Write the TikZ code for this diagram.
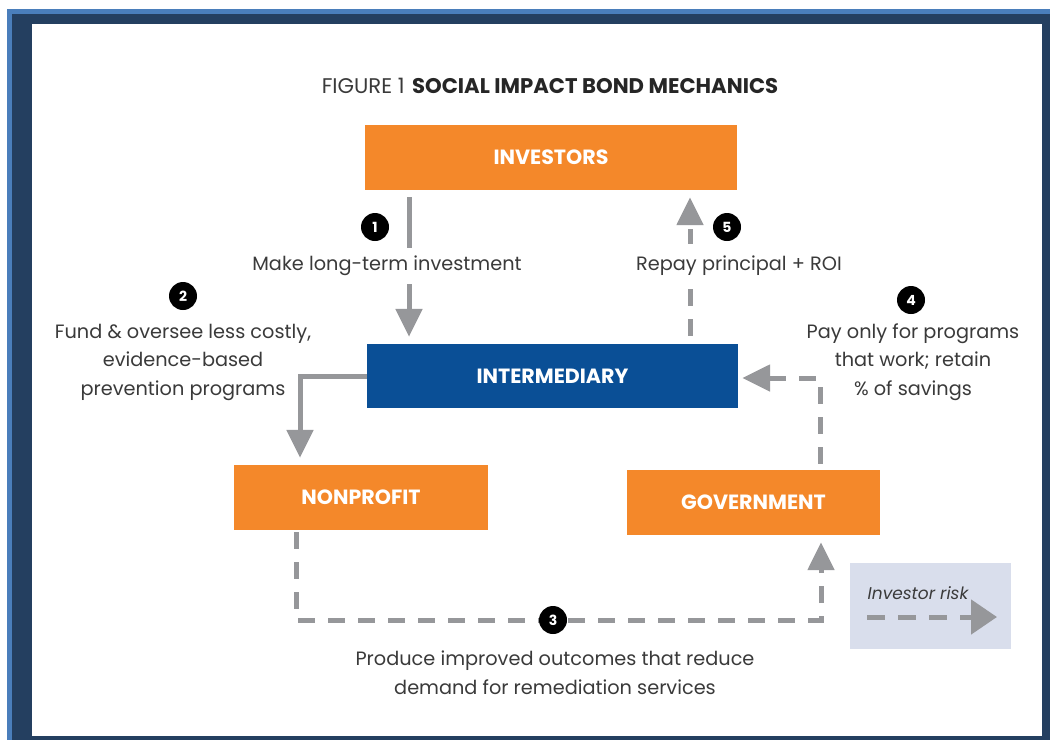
\documentclass[tikz,border=0pt]{standalone}
\usepackage{fontspec}
\setmainfont{Poppins}
\usetikzlibrary{arrows.meta}
\definecolor{sibOrange}{HTML}{F4882A}
\definecolor{sibBlue}{HTML}{0A4F96}
\definecolor{sibGray}{HTML}{96979A}
\definecolor{sibText}{HTML}{3A3A3A}
\definecolor{frameNavy}{HTML}{243F60}
\definecolor{frameBlue}{HTML}{4A7EBB}
\definecolor{legendFill}{HTML}{D9DEEC}
\tikzset{
  box/.style={minimum width=#1, minimum height=65pt, inner sep=0pt, text=white,
    font=\fontsize{20.6}{24}\selectfont\bfseries},
  obox/.style={box=#1, fill=sibOrange},
  bbox/.style={box=#1, fill=sibBlue},
  gline/.style={draw=sibGray, line width=5pt},
  garrow/.style={gline, -{Triangle[width=26pt,length=28pt]}},
  gdash/.style={garrow, dash pattern=on 17pt off 13pt},
  badge/.style={circle, fill=black, minimum size=28pt, inner sep=0pt, text=white,
    font=\fontsize{14}{14}\selectfont\bfseries},
  lbl/.style={text=sibText, font=\fontsize{19.3}{28.5}\selectfont, align=center},
  gap/.style={lbl, fill=white, inner xsep=2pt},
}
\begin{document}
\begin{tikzpicture}[x=1pt,y=-1pt]
  % frame
  \fill[white] (0,0) rectangle (1050,740);
  \fill[frameBlue] (7,9) rectangle (1050,740);
  \fill[frameNavy] (12,14) rectangle (1050,740);
  \fill[white] (32,24) rectangle (1042,736);
  \useasboundingbox (0,0) rectangle (1050,740);

  % title
  \node[font=\fontsize{21.2}{24}\selectfont] (title) at (550,86)
    {\textcolor{sibText}{FIGURE 1}\hspace{0.35em}\textcolor{black!85}{\bfseries SOCIAL IMPACT BOND MECHANICS}};

  % boxes
  \node[obox=372pt] (inv) at (551,157.5) {INVESTORS};
  \node[bbox=371pt, minimum height=64pt] (inter) at (552.5,376) {INTERMEDIARY};
  \node[obox=254pt] (nonp) at (361,497.5) {NONPROFIT};
  \node[obox=253pt] (gov) at (753.5,502.5) {GOVERNMENT};

  % connectors
  \draw[garrow] ([xshift=-142pt,yshift=-7pt]inv.south) -- ([xshift=-143.5pt,yshift=7pt]inter.north);
  \draw[gdash] ([xshift=137.5pt,yshift=8pt]inter.north) -- ([xshift=139pt,yshift=-7pt]inv.south);
  \draw[garrow] (inter.west) -| ([xshift=-61pt,yshift=7pt]nonp.north);
  \draw[gdash] ([xshift=66.5pt,yshift=6pt]gov.north) |- ([xshift=4pt,yshift=-2pt]inter.east);
  \draw[gdash] ([xshift=-65pt,yshift=-2pt]nonp.south) -- ++(0,88) -| ([xshift=67.5pt,yshift=-7pt]gov.south);

  % labels
  \node[gap, minimum height=36pt] (l1) at (387,266) {Make long-term investment};
  \node[gap, minimum height=44pt] (l5) at (739,266) {Repay principal + ROI};
  \node[lbl] (l2) at (183,362) {Fund \& oversee less costly,\\evidence-based\\prevention programs};
  \node[lbl] (l4) at (913,362) {Pay only for programs\\that work; retain\\\% of savings};
  \node[lbl] (l3) at (555,672.5) {Produce improved outcomes that reduce\\demand for remediation services};

  % badges
  \node[badge] (b1) at (375,227) {1};
  \node[badge] (b2) at (183,296) {2};
  \node[badge] (b3) at (553,620) {3};
  \node[badge] (b4) at (911,300) {4};
  \node[badge] (b5) at (727,227) {5};

  % legend
  \node[fill=legendFill, minimum width=161pt, minimum height=86pt, inner sep=0pt] (legend) at (930.5,606) {};
  \node[text=sibText, font=\fontsize{17}{20}\selectfont\itshape] (legtext) at (918,593) {Investor risk};
  \draw[gline, dash pattern=on 18pt off 13pt, -{Triangle[width=34pt,length=26pt]}]
    ([xshift=-63.5pt,yshift=-11pt]legend.center) -- ([xshift=66.5pt,yshift=-11pt]legend.center);
\end{tikzpicture}
\end{document}
